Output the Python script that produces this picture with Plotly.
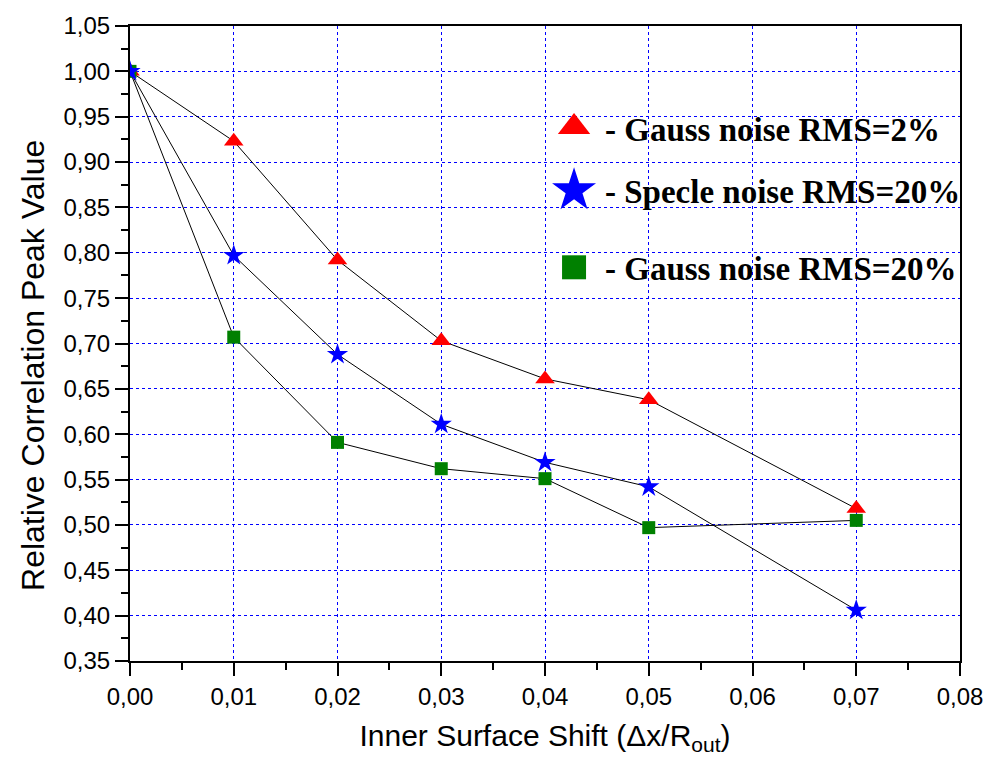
import plotly.graph_objects as go

# Relative correlation peak value vs. inner surface shift
shift = [0.00, 0.01, 0.02, 0.03, 0.04, 0.05, 0.07]
gauss_2 = [1.000, 0.923, 0.792, 0.703, 0.661, 0.638, 0.518]
specle_20 = [1.000, 0.797, 0.688, 0.611, 0.569, 0.542, 0.406]
gauss_20 = [1.000, 0.707, 0.591, 0.562, 0.551, 0.497, 0.505]

series_names = ["- Gauss noise RMS=2%", "- Specle noise RMS=20%", "- Gauss noise RMS=20%"]
series_colors = ["#ff0000", "#0000ff", "#008000"]
series_symbols = ["triangle-up", "star", "square"]
series_sizes = [17, 16, 13]
series_values = [gauss_2, specle_20, gauss_20]

# legend key layout (fractions of the plotting area)
key_x = 0.535
key_y = [0.841, 0.741, 0.620]
key_sizes = [28, 33, 24]
label_x = 0.570
label_y = [0.837, 0.739, 0.617]

fig = go.Figure()

# draw order: triangles, squares, stars (stars end up on top)
for i in [0, 2, 1]:
    fig.add_trace(go.Scatter(
        x=shift, y=series_values[i], mode="lines+markers",
        line=dict(color="black", width=1),
        marker=dict(symbol=series_symbols[i], size=series_sizes[i],
                    color=series_colors[i], line=dict(width=0)),
        name=series_names[i], showlegend=False, hoverinfo="skip",
    ))

# legend keys on an overlay axis spanning the plotting area
for i in range(3):
    fig.add_trace(go.Scatter(
        x=[key_x], y=[key_y[i]], mode="markers", xaxis="x2", yaxis="y2",
        marker=dict(symbol=series_symbols[i], size=key_sizes[i],
                    color=series_colors[i], line=dict(width=0)),
        showlegend=False, hoverinfo="skip",
    ))
    fig.add_annotation(
        x=label_x, y=label_y[i], xref="paper", yref="paper",
        text=series_names[i], showarrow=False, xanchor="left", yanchor="middle",
        font=dict(family="Liberation Serif", size=33, color="black", weight="bold"),
    )

# y-axis title, placed as an annotation so it can sit slightly below centre
fig.add_annotation(
    x=-0.117, y=0.466, xref="paper", yref="paper",
    text="Relative Correlation Peak Value", textangle=-90, showarrow=False,
    xanchor="center", yanchor="middle",
    font=dict(family="Liberation Sans", size=32, color="black"),
)

axis_common = dict(
    showline=True, linecolor="black", linewidth=2, mirror=True,
    ticks="outside", ticklen=13, tickwidth=2, tickcolor="black",
    showgrid=True, gridcolor="#0000ff", gridwidth=1, griddash="dot",
    zeroline=False,
    tickfont=dict(family="Liberation Sans", size=24, color="black"),
    title_font=dict(family="Liberation Sans", color="black"),
)

fig.update_layout(
    width=995, height=768,
    margin=dict(l=130, r=27, t=24, b=107),
    paper_bgcolor="white", plot_bgcolor="white",
    separators=", ",
    showlegend=False,
    xaxis=dict(
        range=[0, 0.08], tick0=0, dtick=0.01, tickformat=".2f",
        minor=dict(ticks="outside", ticklen=7, tickwidth=2, tickcolor="black",
                   dtick=0.005, showgrid=False),
        title=dict(text="Inner Surface Shift (\u0394x/R<sub>out</sub>)",
                   font=dict(size=30), standoff=16),
        **axis_common,
    ),
    yaxis=dict(
        range=[0.35, 1.05], tick0=0.35, dtick=0.05, tickformat=".2f",
        minor=dict(ticks="outside", ticklen=7, tickwidth=2, tickcolor="black",
                   dtick=0.025, showgrid=False),
        **axis_common,
    ),
    xaxis2=dict(range=[0, 1], overlaying="x", visible=False),
    yaxis2=dict(range=[0, 1], overlaying="y", visible=False),
)

fig.write_html("out.html")
